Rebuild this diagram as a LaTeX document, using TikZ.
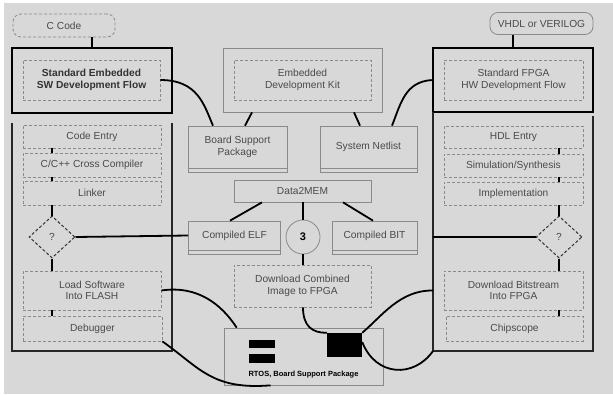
\documentclass[tikz,border=0pt]{standalone}
\usepackage{fontspec}
\setmainfont{Liberation Sans}
\usetikzlibrary{shapes.geometric,shadows,calc}
\definecolor{bg}{HTML}{D8D8D8}
\definecolor{txt}{HTML}{4A4A4A}
\definecolor{edge}{HTML}{8A8A8A}
\begin{document}
\begin{tikzpicture}[x=1pt,y=-1pt,
  every node/.style={font=\fontsize{10.2}{11.5}\selectfont, text=txt, align=center, inner sep=1pt},
  innerbox/.style={draw=edge, densely dashed, line width=0.7pt, fill=bg, rectangle},
  stepbox/.style={draw=edge, line width=0.7pt, fill=bg, rectangle},
  stackbox/.style={draw=edge, line width=0.7pt, fill=bg, rectangle,
     copy shadow={shadow xshift=0pt, shadow yshift=-4pt, draw=edge, fill=bg}},
  frame/.style={draw=black!85, line width=2.3pt},
  conn/.style={draw=black, line width=1.8pt},
  tick/.style={draw=black, line width=2pt},
  qdiam/.style={diamond, draw=black!80, densely dashed, line width=1pt, fill=bg, minimum width=46pt, minimum height=42pt, inner sep=0pt},
  blk/.style={fill=black, draw=none, rectangle, inner sep=0pt}
]
\fill[white] (0,0) rectangle (613,394);
\fill[bg] (4,3) rectangle (613,394);
\useasboundingbox (0,0) rectangle (613,394);

% ---------- left column ----------
\node[draw=edge, densely dashed, line width=0.8pt, rounded corners=8pt, minimum width=102pt, minimum height=23pt] (ccode) at (64,25.5) {C Code};
\node[draw=black, line width=2.5pt, minimum width=160pt, minimum height=65pt] (swouter) at (92,80.5) {};
\node[innerbox, minimum width=137pt, minimum height=40pt] (swinner) at (91.5,80) {\bfseries\color{black!80}Standard Embedded\\\bfseries\color{black!80}SW Development Flow};
\coordinate (lf1) at (12,123);
\coordinate (lf2) at (12,351);
\coordinate (lf3) at (172,351);
\coordinate (lf4) at (172,123);
\draw[frame] (lf1) -- (lf2) -- (lf3) -- (lf4);
\node[innerbox, minimum width=138pt, minimum height=23pt] (codeentry) at (92,136.5) {Code Entry};
\node[innerbox, minimum width=138pt, minimum height=24pt] (cxx) at (92,165) {C/C++ Cross Compiler};
\node[innerbox, minimum width=138pt, minimum height=24pt] (linker) at (92,193) {Linker};
\node[qdiam] (qL) at (52,237) {?};
\node[innerbox, minimum width=138pt, minimum height=39pt] (loadsw) at (92,290.5) {Load Software\\Into FLASH};
\node[innerbox, minimum width=139pt, minimum height=25pt] (debugger) at (92.5,328.5) {Debugger};

\draw[conn] (ccode.south -| swouter.north) -- (swouter.north);
\draw[tick] (codeentry.south -| qL) -- (cxx.north -| qL);
\draw[tick] (cxx.south -| qL) -- (linker.north -| qL);
\draw[tick] (linker.south -| qL) -- (qL.north);
\draw[tick] (qL.south) -- (loadsw.north -| qL);
\draw[tick] (loadsw.south -| qL) -- (debugger.north -| qL);

% ---------- centre column ----------
\node[stepbox, minimum width=159pt, minimum height=64pt] (edkouter) at (302.5,80) {};
\node[innerbox, minimum width=137pt, minimum height=40pt] (edkinner) at (302.5,80) {Embedded\\Development Kit};
\node[stackbox, minimum width=99pt, minimum height=42pt] (bsp) at (237.5,147) {Board Support\\Package};
\node[stackbox, minimum width=97pt, minimum height=42pt] (netlist) at (368.5,147) {System Netlist};
\node[stepbox, minimum width=137pt, minimum height=22pt] (data2mem) at (302.5,191) {Data2MEM};
\node[stackbox, minimum width=92pt, minimum height=29pt] (elf) at (234.5,235.5) {Compiled ELF};
\node[circle, draw=edge, line width=0.8pt, fill=bg, minimum size=34pt, inner sep=0pt, font=\fontsize{11}{12}\selectfont\bfseries, text=black] (three) at (303,237) {3};
\node[stackbox, minimum width=85pt, minimum height=29pt] (bit) at (374.5,235.5) {Compiled BIT};
\node[innerbox, minimum width=137pt, minimum height=42pt] (download) at (302.5,286) {Download Combined\\Image to FPGA};
\node[stepbox, minimum width=159pt, minimum height=57pt] (rtos) at (303.5,356.5) {};
\node[font=\fontsize{7.5}{8}\selectfont\bfseries, text=black] (rtoslabel) at (303.5,374.5) {RTOS, Board Support Package};
\node[blk, minimum width=26pt, minimum height=8pt] (bar1) at (262,344) {};
\node[blk, minimum width=26pt, minimum height=9pt] (bar2) at (262,358.5) {};
\node[blk, minimum width=35pt, minimum height=24pt] (chip) at (344.5,345) {};

\draw[conn] ([xshift=-50.5]edkouter.south) -- ([xshift=7.5]bsp.north);
\draw[conn] ([xshift=51.5]edkouter.south) -- ([xshift=-8.5]netlist.north);
\draw[conn] ([xshift=-40.5]data2mem.south) -- ([xshift=-4.5]elf.north);
\draw[conn] (data2mem.south -| three) -- (three.north);
\draw[conn] ([xshift=40.5]data2mem.south) -- ([xshift=-1.5]bit.north);
\draw[conn] (three.south) -- (download.north -| three);
\draw[conn] (qL.east) -- (elf.west);

% ---------- right column ----------
\node[draw=edge, line width=0.8pt, rounded corners=8pt, minimum width=103pt, minimum height=22pt] (vhdl) at (541.5,23.5) {VHDL or VERILOG};
\node[draw=black, line width=2.5pt, minimum width=160pt, minimum height=64pt] (hwouter) at (513,80) {};
\node[innerbox, minimum width=139pt, minimum height=40pt] (hwinner) at (513.5,80) {Standard FPGA\\HW Development Flow};
\coordinate (rf1) at (433,112);
\coordinate (rf2) at (433,351);
\coordinate (rf3) at (593,351);
\coordinate (rf4) at (593,116);
\draw[frame] (rf1) -- (rf2) -- (rf3) -- (rf4);
\node[innerbox, minimum width=139pt, minimum height=22pt] (hdl) at (513.5,137) {HDL Entry};
\node[innerbox, minimum width=139pt, minimum height=23pt] (sim) at (513.5,165.5) {Simulation/Synthesis};
\node[innerbox, minimum width=139pt, minimum height=23pt] (impl) at (513.5,193.5) {Implementation};
\node[qdiam] (qR) at (559,237) {?};
\node[innerbox, minimum width=139pt, minimum height=39pt] (dlbit) at (513.5,290.5) {Download Bitstream\\Into FPGA};
\node[innerbox, minimum width=137pt, minimum height=25pt] (chipscope) at (514.5,328.5) {Chipscope};

\draw[conn] (vhdl.south -| hwouter.north) -- (hwouter.north);
\draw[tick] (hdl.south -| qR) -- (sim.north -| qR);
\draw[tick] (sim.south -| qR) -- (impl.north -| qR);
\draw[tick] (impl.south -| qR) -- (qR.north);
\draw[tick] (qR.south) -- (dlbit.north -| qR);
\draw[tick] (dlbit.south -| qR) -- (chipscope.north -| qR);
\draw[conn] (qR.west) -- (qR.west -| rf1);

% ---------- curves ----------
\draw[conn] (swinner.east) .. controls (198,80) and (204,105) .. ([xshift=-24.5]bsp.north);
\draw[conn] ([xshift=23.5]netlist.north) .. controls (401,103) and (405,82) .. (hwouter.west);
\draw[conn] (download.south -| three) .. controls (303,326) and (312,333) .. (chip.north west);
\draw[conn] (loadsw.east) .. controls (198,285) and (222,305) .. ([xshift=13]rtos.north west);
\draw[conn] (debugger.south east) .. controls (200,368) and (212,390) .. ([xshift=-33]rtos.south);
\draw[conn] (chip.north east) .. controls (382,316) and (400,290) .. (dlbit.west -| rf1);
\draw[conn] ([yshift=3]chip.east) .. controls (376,377) and (414,378) .. (rf2);
\end{tikzpicture}
\end{document}
